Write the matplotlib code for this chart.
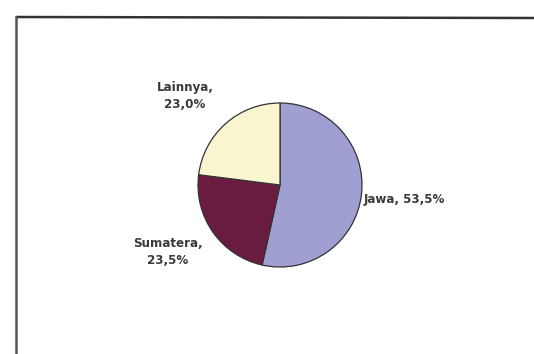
import matplotlib
matplotlib.use("Agg")
import matplotlib.pyplot as plt
from matplotlib.lines import Line2D

regions = ["Jawa", "Sumatera", "Lainnya"]
shares = [53.5, 23.5, 23.0]
share_labels = ["53,5%", "23,5%", "23,0%"]
colors = ["#9f9fd2", "#6a1c40", "#f8f5cf"]

plt.rcParams["font.family"] = ["DejaVu Sans"]

fig = plt.figure(figsize=(5.34, 3.54), dpi=100)
ax = fig.add_axes([0, 0, 1, 1])
ax.set_xlim(0, 534)
ax.set_ylim(0, 354)
ax.set_aspect("equal")

ax.pie(shares, colors=colors, startangle=90, counterclock=False,
       center=(280, 169), radius=82, frame=True,
       wedgeprops=dict(edgecolor="#333333", linewidth=0.9))
ax.axis("off")

# label placement
lab = dict(fontsize=8.6, fontweight="bold", color="#3a3a3a")
ax.text(364, 155, regions[0] + ", " + share_labels[0], ha="left", va="center", **lab)
ax.text(168, 102, regions[1] + ",\n" + share_labels[1], ha="center", va="center",
        linespacing=1.35, **lab)
ax.text(185, 258, regions[2] + ",\n" + share_labels[2], ha="center", va="center",
        linespacing=1.35, **lab)

# frame of the scanned chart
fig.add_artist(Line2D([17 / 534, 1], [1 - 17 / 354, 1 - 18 / 354],
                      transform=fig.transFigure, color="#333333", linewidth=1.8))
fig.add_artist(Line2D([16 / 534, 16 / 534], [1 - 17 / 354, 0],
                      transform=fig.transFigure, color="#555555", linewidth=1.8))

fig.savefig("out.png", dpi=100, facecolor="white")
